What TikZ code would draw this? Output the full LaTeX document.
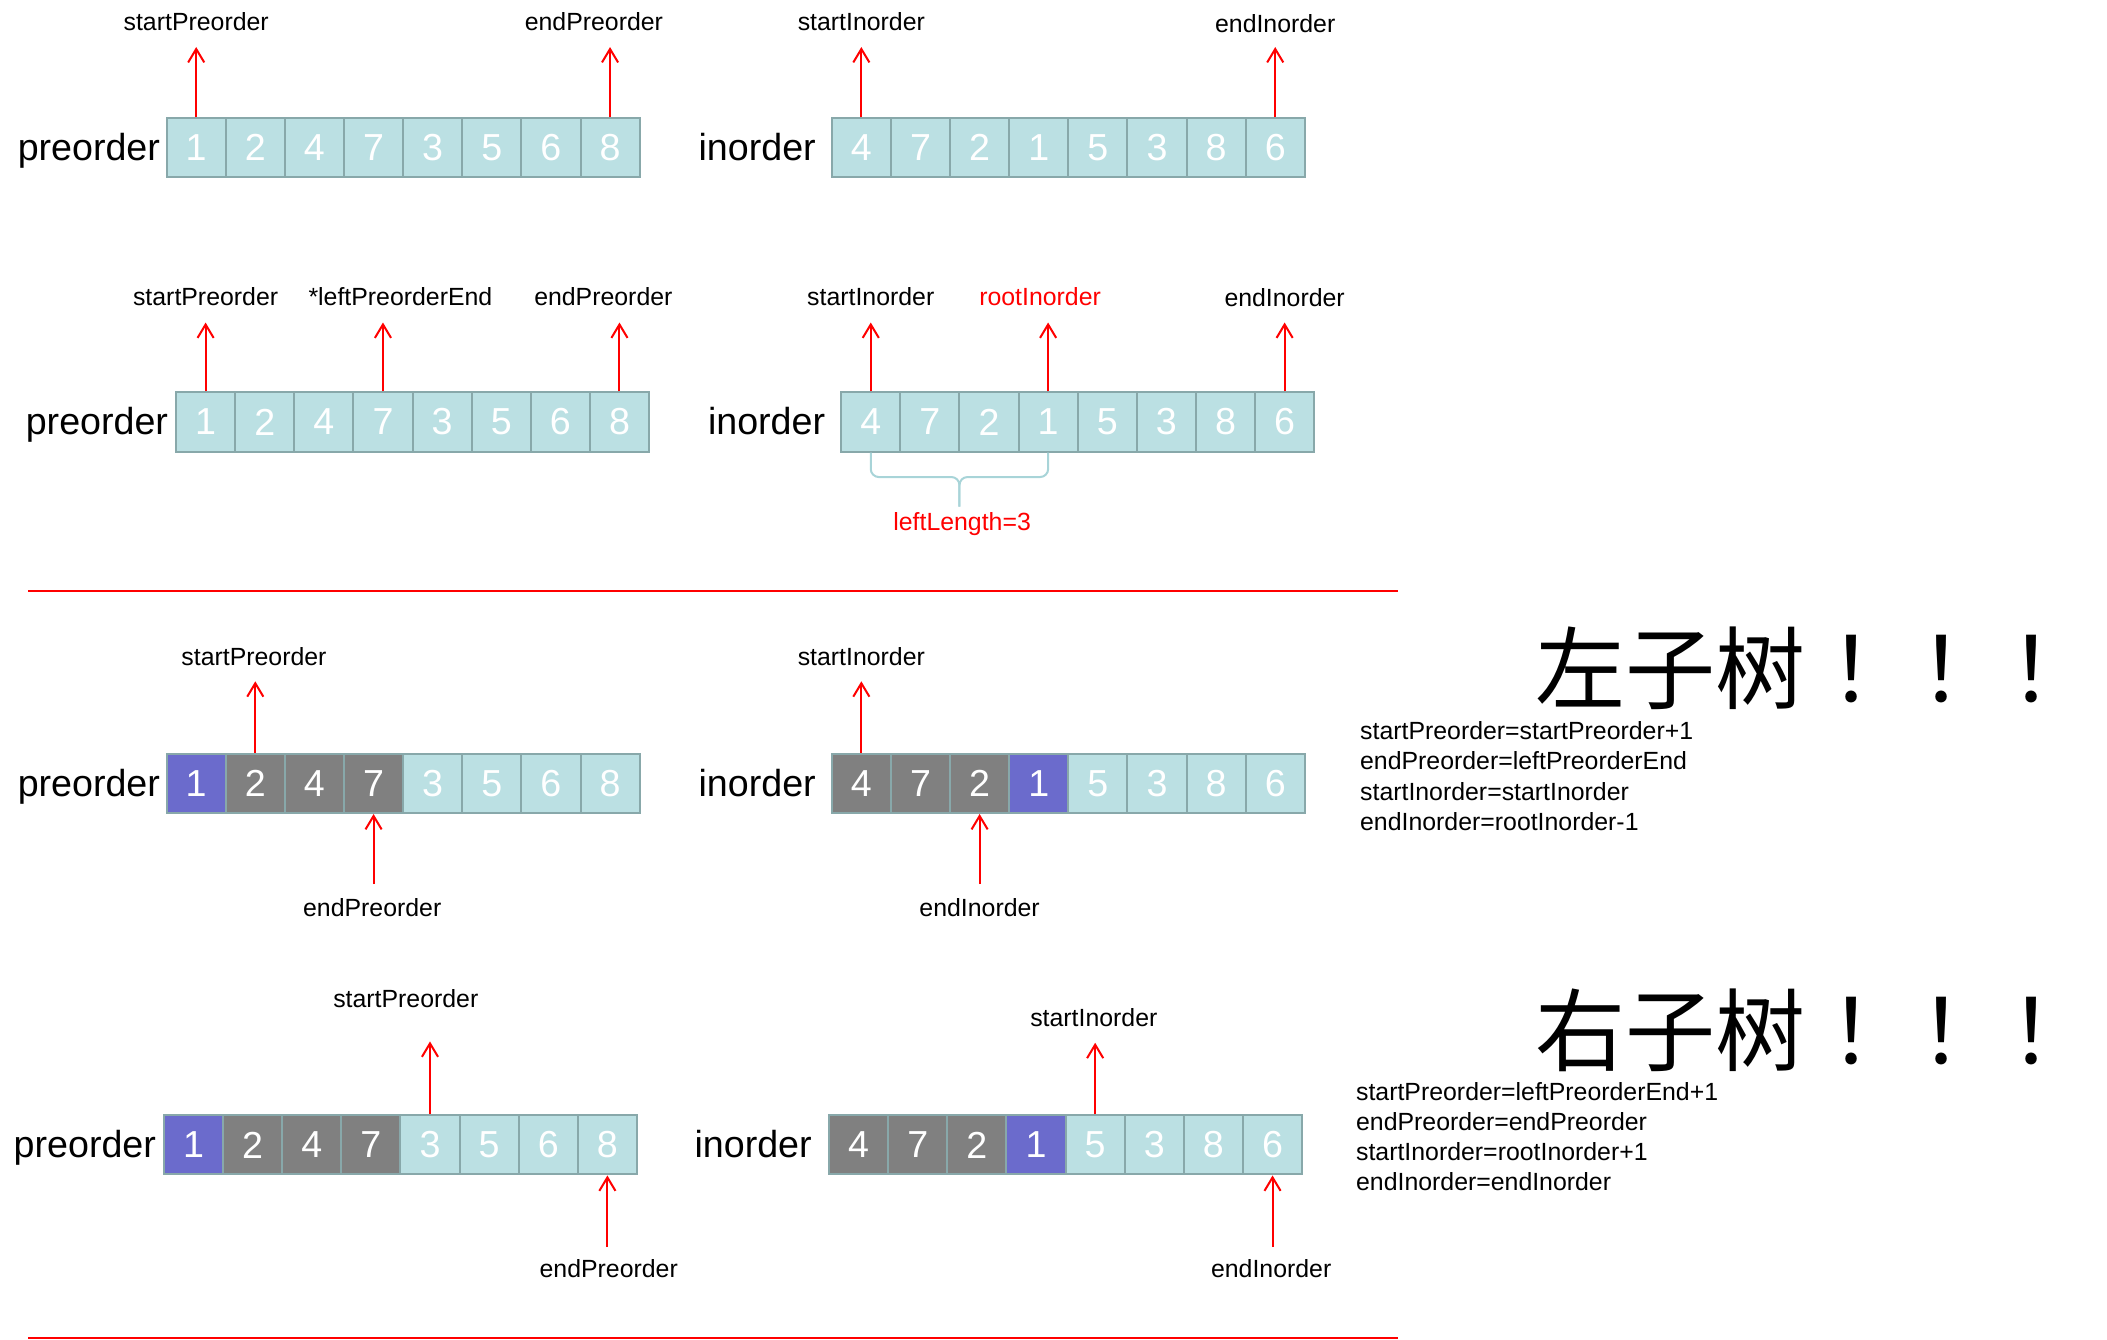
\documentclass[tikz,border=0pt]{standalone}
\usepackage{fontspec}
\setmainfont{Liberation Sans}
\newfontfamily\cjk{Noto Sans CJK SC}
\newfontfamily\cjkpunct{Noto Sans CJK TC}
\usetikzlibrary{arrows.meta,positioning}

\definecolor{cellfill}{HTML}{BBE0E3}
\definecolor{cellrule}{HTML}{88A8AA}
\definecolor{rootfill}{HTML}{6B6BCC}
\definecolor{leftfill}{HTML}{808080}
\definecolor{bracerule}{HTML}{A8D4D8}

\tikzset{
  cell/.style={draw=cellrule, fill=cellfill, line width=1.5pt, minimum width=44pt,
    minimum height=44pt, inner sep=0pt, text=white, font=\fontsize{28}{30}\selectfont},
  rootcell/.style={cell, fill=rootfill},
  leftcell/.style={cell, fill=leftfill},
  arrname/.style={inner sep=0pt, font=\fontsize{28}{30}\selectfont},
  ptrlabel/.style={inner sep=0pt, anchor=base, font=\fontsize{18.5}{22}\selectfont},
  formula/.style={inner sep=0pt, anchor=base west, font=\fontsize{18.5}{22}\selectfont},
  headline/.style={inner sep=0pt, font=\cjk\fontsize{67}{70}\selectfont},
  ptr/.style={red, line width=1.5pt, -{Straight Barb[length=10pt,width=12pt]}},
  sepline/.style={red, line width=1.5pt},
}

\begin{document}
\begin{tikzpicture}[x=1pt,y=1pt]
\useasboundingbox (0,0) rectangle (1568,-997);
% row 1: whole sequences
\foreach \v [count=\k] in {1,2,4,7,3,5,6,8}
  \node[cell] (pa\k) at ({102+44*\k},-110) {\v};
\foreach \v [count=\k] in {4,7,2,1,5,3,8,6}
  \node[cell] (ia\k) at ({597+44*\k},-110) {\v};
\node[arrname, base left=4pt of pa1] (preA) {preorder};
\node[arrname, base left=11pt of ia1] (inA) {inorder};
\node[ptrlabel] (spA) at (146,-23) {startPreorder};
\node[ptrlabel] (epA) at (442,-23) {endPreorder};
\node[ptrlabel] (siA) at (641,-23) {startInorder};
\node[ptrlabel] (eiA) at (949,-24) {endInorder};
\coordinate (spAt) at (146,-35);
\coordinate (epAt) at (454,-35);
\coordinate (siAt) at (641,-35);
\coordinate (eiAt) at (949,-35);
\draw[ptr] (pa1.north) -- (spAt);
\draw[ptr] (pa8.north) -- (epAt);
\draw[ptr] (ia1.north) -- (siAt);
\draw[ptr] (ia8.north) -- (eiAt);

% row 2: root and left length
\foreach \v [count=\k] in {1,2,4,7,3,5,6,8}
  \node[cell] (pb\k) at ({109+44*\k},-314) {\v};
\foreach \v [count=\k] in {4,7,2,1,5,3,8,6}
  \node[cell] (ib\k) at ({604+44*\k},-314) {\v};
\node[arrname, base left=5pt of pb1] (preB) {preorder};
\node[arrname, base left=11pt of ib1] (inB) {inorder};
\node[ptrlabel] (spB) at (153,-227) {startPreorder};
\node[ptrlabel] (lpB) at (298,-227) {*leftPreorderEnd};
\node[ptrlabel] (epB) at (449,-227) {endPreorder};
\node[ptrlabel] (siB) at (648,-227) {startInorder};
\node[ptrlabel, red] (riB) at (774,-227) {rootInorder};
\node[ptrlabel] (eiB) at (956,-228) {endInorder};
\coordinate (spBt) at (153,-240);
\coordinate (lpBt) at (285,-240);
\coordinate (epBt) at (461,-240);
\coordinate (siBt) at (648,-240);
\coordinate (riBt) at (780,-240);
\coordinate (eiBt) at (956,-240);
\draw[ptr] (pb1.north) -- (spBt);
\draw[ptr] (pb4.north) -- (lpBt);
\draw[ptr] (pb8.north) -- (epBt);
\draw[ptr] (ib1.north) -- (siBt);
\draw[ptr] (ib4.north) -- (riBt);
\draw[ptr] (ib8.north) -- (eiBt);
\coordinate (brM) at (714,-355);
\coordinate (brT) at (714,-377);
\draw[bracerule, line width=1.5pt, rounded corners=6pt] (ib1.south) |- (brM) -- (brT);
\draw[bracerule, line width=1.5pt, rounded corners=6pt] (ib4.south) |- (brM) -- (brT);
\node[ptrlabel, red] (llB) at (716,-395) {leftLength=3};

\coordinate (sep1a) at (21,-439.5);
\coordinate (sep1b) at (1040,-439.5);
\draw[sepline] (sep1a) -- (sep1b);

% row 3: left subtree
\foreach \v/\s [count=\k] in {1/rootcell,2/leftcell,4/leftcell,7/leftcell,3/cell,5/cell,6/cell,8/cell}
  \node[\s] (pc\k) at ({102+44*\k},-583) {\v};
\foreach \v/\s [count=\k] in {4/leftcell,7/leftcell,2/leftcell,1/rootcell,5/cell,3/cell,8/cell,6/cell}
  \node[\s] (ic\k) at ({597+44*\k},-583) {\v};
\node[arrname, base left=4pt of pc1] (preC) {preorder};
\node[arrname, base left=11pt of ic1] (inC) {inorder};
\node[ptrlabel] (spC) at (189,-495) {startPreorder};
\node[ptrlabel] (epC) at (277,-682) {endPreorder};
\node[ptrlabel] (siC) at (641,-495) {startInorder};
\node[ptrlabel] (eiC) at (729,-682) {endInorder};
\coordinate (spCt) at (190,-507);
\coordinate (epCs) at (278,-658);
\coordinate (siCt) at (641,-507);
\coordinate (eiCs) at (729,-658);
\draw[ptr] (pc2.north) -- (spCt);
\draw[ptr] (epCs) -- (pc4.south);
\draw[ptr] (ic1.north) -- (siCt);
\draw[ptr] (eiCs) -- (ic3.south);
\node[headline] (leftT) at (1344,-497) {左子树{\cjkpunct ！！！}};
\node[formula] (fl1) at (1012,-550.6) {startPreorder=startPreorder+1};
\node[formula] (fl2) at (1012,-573) {endPreorder=leftPreorderEnd};
\node[formula] (fl3) at (1012,-595.4) {startInorder=startInorder};
\node[formula] (fl4) at (1012,-617.8) {endInorder=rootInorder-1};

% row 4: right subtree
\foreach \v/\s [count=\k] in {1/rootcell,2/leftcell,4/leftcell,7/leftcell,3/cell,5/cell,6/cell,8/cell}
  \node[\s] (pd\k) at ({100+44*\k},-852) {\v};
\foreach \v/\s [count=\k] in {4/leftcell,7/leftcell,2/leftcell,1/rootcell,5/cell,3/cell,8/cell,6/cell}
  \node[\s] (id\k) at ({595+44*\k},-852) {\v};
\node[arrname, base left=5pt of pd1] (preD) {preorder};
\node[arrname, base left=12pt of id1] (inD) {inorder};
\node[ptrlabel] (spD) at (302,-750) {startPreorder};
\node[ptrlabel] (epD) at (453,-951) {endPreorder};
\node[ptrlabel] (siD) at (814,-764) {startInorder};
\node[ptrlabel] (eiD) at (946,-951) {endInorder};
\coordinate (spDt) at (320,-775);
\coordinate (epDs) at (452,-928);
\coordinate (siDt) at (815,-776);
\coordinate (eiDs) at (947,-928);
\draw[ptr] (pd5.north) -- (spDt);
\draw[ptr] (epDs) -- (pd8.south);
\draw[ptr] (id5.north) -- (siDt);
\draw[ptr] (eiDs) -- (id8.south);
\node[headline] (rightT) at (1344,-767) {右子树{\cjkpunct ！！！}};
\node[formula] (fr1) at (1009,-819) {startPreorder=leftPreorderEnd+1};
\node[formula] (fr2) at (1009,-841) {endPreorder=endPreorder};
\node[formula] (fr3) at (1009,-863.5) {startInorder=rootInorder+1};
\node[formula] (fr4) at (1009,-886) {endInorder=endInorder};

\coordinate (sep2a) at (21,-996);
\coordinate (sep2b) at (1040,-996);
\draw[sepline] (sep2a) -- (sep2b);
\end{tikzpicture}
\end{document}
